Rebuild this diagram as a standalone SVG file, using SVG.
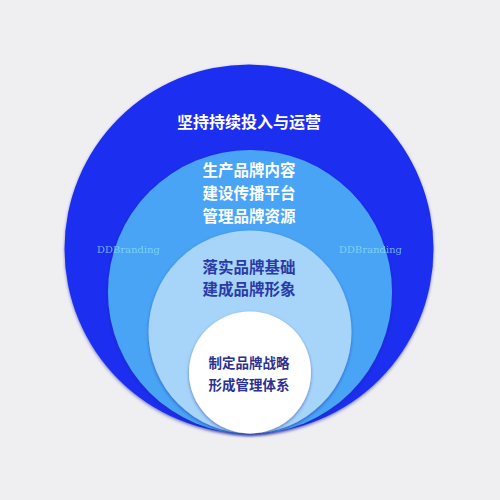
<svg xmlns="http://www.w3.org/2000/svg" width="500" height="500" viewBox="0 0 500 500">
<defs>
<filter id="sh" x="-10%" y="-10%" width="120%" height="120%">
<feDropShadow dx="0" dy="1.5" stdDeviation="1.5" flood-color="#1a2a9a" flood-opacity="0.55"/>
</filter>
<style>
.t{font-family:"Noto Sans CJK SC","Noto Sans",sans-serif;font-weight:700;text-anchor:middle}
.w{fill:#ffffff}
.d{fill:#2a3aa6}
.n{fill:#2c3190}
.wm{font-family:"DejaVu Serif","Liberation Serif",serif;font-size:10px;fill:#8fe6f0}
</style>
</defs>
<rect width="500" height="500" fill="#efeff1"/>
<g id="ring1">
<circle cx="249" cy="249" r="184.5" fill="#1e2ff0" filter="url(#sh)"/>
<text class="t w" x="249" y="128" font-size="16">坚持持续投入与运营</text>
</g>
<g id="ring2">
<circle cx="250" cy="292" r="142" fill="#4aa4f6" filter="url(#sh)"/>
<text class="t w" x="249" y="176" font-size="15.5">生产品牌内容</text>
<text class="t w" x="249" y="199" font-size="15.5">建设传播平台</text>
<text class="t w" x="249" y="222" font-size="15.5">管理品牌资源</text>
</g>
<g id="ring3">
<circle cx="250" cy="332" r="101.5" fill="#a7d4f9" filter="url(#sh)"/>
<text class="t d" x="249" y="273" font-size="15.5">落实品牌基础</text>
<text class="t d" x="249" y="295" font-size="15.5">建成品牌形象</text>
</g>
<g id="core">
<circle cx="250" cy="372.5" r="61" fill="#ffffff" filter="url(#sh)"/>
<text class="t n" x="249" y="368" font-size="13.5">制定品牌战略</text>
<text class="t n" x="249" y="390" font-size="13.5">形成管理体系</text>
</g>
<g id="watermarks" opacity="0.7">
<text class="wm" x="97" y="253">DDBranding</text>
<text class="wm" x="339" y="253">DDBranding</text>
</g>
</svg>
